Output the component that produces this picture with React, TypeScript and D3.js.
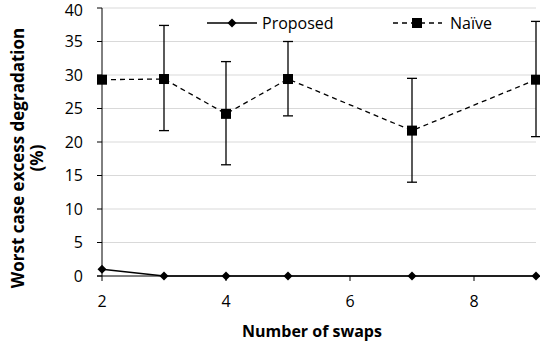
import React from 'react';
import * as d3 from 'd3';

const swaps = [2, 3, 4, 5, 7, 9];
const proposed = [1.0, 0, 0, 0, 0, 0];
const naive = [29.3, 29.4, 24.2, 29.4, 21.7, 29.3];
const naiveLow = [29.3, 21.7, 16.6, 23.9, 14.0, 20.8];
const naiveHigh = [29.3, 37.4, 32.0, 35.0, 29.5, 38.0];
const yTicks = [0, 5, 10, 15, 20, 25, 30, 35, 40];
const xTicks = [2, 4, 6, 8];

const W = 540;
const H = 347;
const FONT = '"Open Sans", "Noto Sans", sans-serif';
const FS = 16;

export default function App() {
  const x = d3.scaleLinear().domain([2, 9]).range([102, 536]);
  const y = d3.scaleLinear().domain([0, 40]).range([276, 8]);

  const line = d3.line<[number, number]>()
    .x(d => x(d[0]))
    .y(d => y(d[1]));

  const naivePts: [number, number][] = swaps.map((s, i) => [s, naive[i]]);
  const propPts: [number, number][] = swaps.map((s, i) => [s, proposed[i]]);

  const diamond = (cx: number, cy: number, r: number) =>
    `M${cx},${cy - r}L${cx + r},${cy}L${cx},${cy + r}L${cx - r},${cy}Z`;

  return (
    <svg width={W} height={H} style={{ position: 'absolute', left: 0, top: 0 }} fontFamily={FONT}>
      <rect width={W} height={H} fill="#fff" />
      {/* gridlines */}
      {yTicks.filter(t => t > 0).map(t => (
        <line key={t} x1={x(2)} x2={x(9)} y1={y(t)} y2={y(t)} stroke="#d9d9d9" strokeWidth={1} />
      ))}
      {/* axes */}
      <line x1={x(2)} x2={x(2)} y1={y(40)} y2={y(0)} stroke="#000" strokeWidth={1} />
      <line x1={x(2) - 5} x2={x(9)} y1={y(0)} y2={y(0)} stroke="#000" strokeWidth={1} />
      {yTicks.map(t => (
        <g key={t}>
          <line x1={x(2) - 5} x2={x(2)} y1={y(t)} y2={y(t)} stroke="#000" />
          <text x={x(2) - 19} y={Math.max(y(t), 10)} dy="0.36em" textAnchor="end" fontSize={FS} fill="#000">{t}</text>
        </g>
      ))}
      {xTicks.map(t => (
        <g key={t}>
          <line x1={x(t)} x2={x(t)} y1={y(0)} y2={y(0) + 5} stroke="#000" />
          <text x={x(t)} y={y(0) + 31} textAnchor="middle" fontSize={FS} fill="#000">{t}</text>
        </g>
      ))}
      {/* error bars */}
      {swaps.map((s, i) => naiveHigh[i] > naiveLow[i] && (
        <g key={s} stroke="#000" strokeWidth={1.3}>
          <line x1={x(s)} x2={x(s)} y1={y(naiveHigh[i])} y2={y(naiveLow[i])} />
          <line x1={x(s) - 5} x2={x(s) + 5} y1={y(naiveHigh[i])} y2={y(naiveHigh[i])} />
          <line x1={x(s) - 5} x2={x(s) + 5} y1={y(naiveLow[i])} y2={y(naiveLow[i])} />
        </g>
      ))}
      {/* series */}
      <path d={line(naivePts) || ''} fill="none" stroke="#000" strokeWidth={1.3} strokeDasharray="5,4" />
      {naivePts.map(([s, v]) => (
        <rect key={s} x={x(s) - 5} y={y(v) - 5} width={10} height={10} fill="#000" />
      ))}
      <path d={line(propPts) || ''} fill="none" stroke="#000" strokeWidth={1.5} />
      {propPts.map(([s, v]) => (
        <path key={s} d={diamond(x(s), y(v), 4.5)} fill="#000" />
      ))}
      {/* legend */}
      <line x1={207} x2={257} y1={23} y2={23} stroke="#000" strokeWidth={1.5} />
      <path d={diamond(232, 23, 4.5)} fill="#000" />
      <text x={262} y={23} dy="0.36em" fontSize={FS} fill="#000">Proposed</text>
      <line x1={393} x2={442} y1={23} y2={23} stroke="#000" strokeWidth={1.3} strokeDasharray="5,4" />
      <rect x={412} y={18} width={10} height={10} fill="#000" />
      <text x={450} y={23} dy="0.36em" fontSize={FS} fill="#000">Naïve</text>
      {/* axis titles */}
      <text x={312} y={337} textAnchor="middle" fontSize={FS} fontWeight="bold" fill="#000">Number of swaps</text>
      <g transform="translate(18,158) rotate(-90)">
        <text x={0} y={0} dy="0.36em" textAnchor="middle" fontSize={17} fontWeight="bold" fill="#000">Worst case excess degradation</text>
        <text x={0} y={19} dy="0.36em" textAnchor="middle" fontSize={17} fontWeight="bold" fill="#000">(%)</text>
      </g>
    </svg>
  );
}
